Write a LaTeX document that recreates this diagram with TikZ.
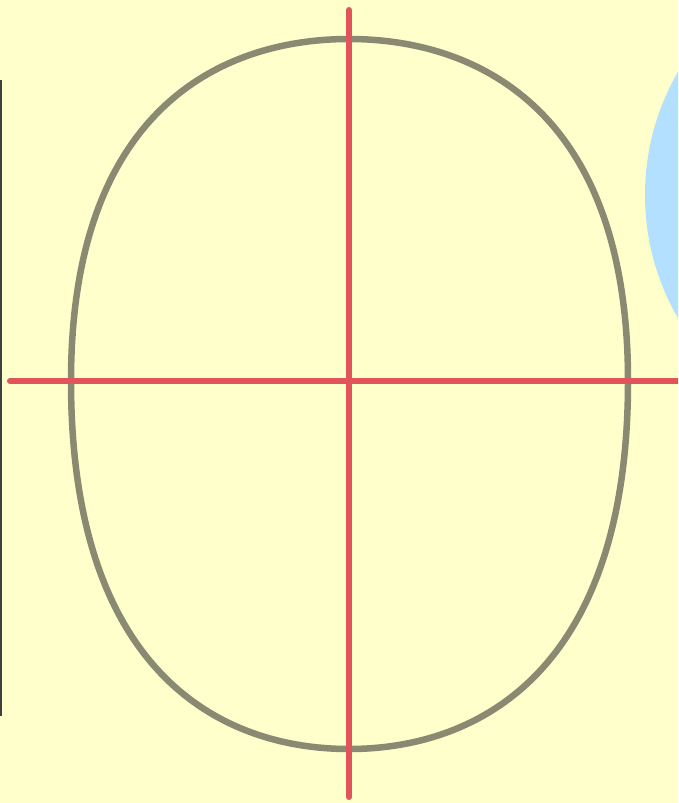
\documentclass[tikz,border=0pt]{standalone}
\definecolor{paper}{RGB}{255,255,204}
\definecolor{sky}{RGB}{179,224,255}
\definecolor{headline}{RGB}{138,138,114}
\definecolor{guide}{RGB}{225,85,90}
\begin{document}
\begin{tikzpicture}[x=1pt,y=-1pt,
    outline/.style={draw=headline, line width=6.5pt},
    guideline/.style={draw=guide, line width=6pt, line cap=round}]
            \useasboundingbox (0,0) rectangle (678,803);
            \clip (0,0) rectangle (678,803);
            \fill[paper] (0,0) rectangle (678,803);
            \fill[sky] (891,195) circle (246);
            \draw[black!75, line width=3.5pt] (0,80) -- (0,716);
            % head outline
            \draw[outline] (349,39) .. controls (475,39) and (628,108) .. (628,381)
                .. controls (628,675) and (475,749) .. (349,749)
                .. controls (223,749) and (71,675) .. (71,381)
                .. controls (71,108) and (223,39) .. (349,39) -- cycle;
            \draw[guideline] (349,10) -- (349,797);
            \draw[guideline] (10,381) -- (690,381);
        \end{tikzpicture}
\end{document}
